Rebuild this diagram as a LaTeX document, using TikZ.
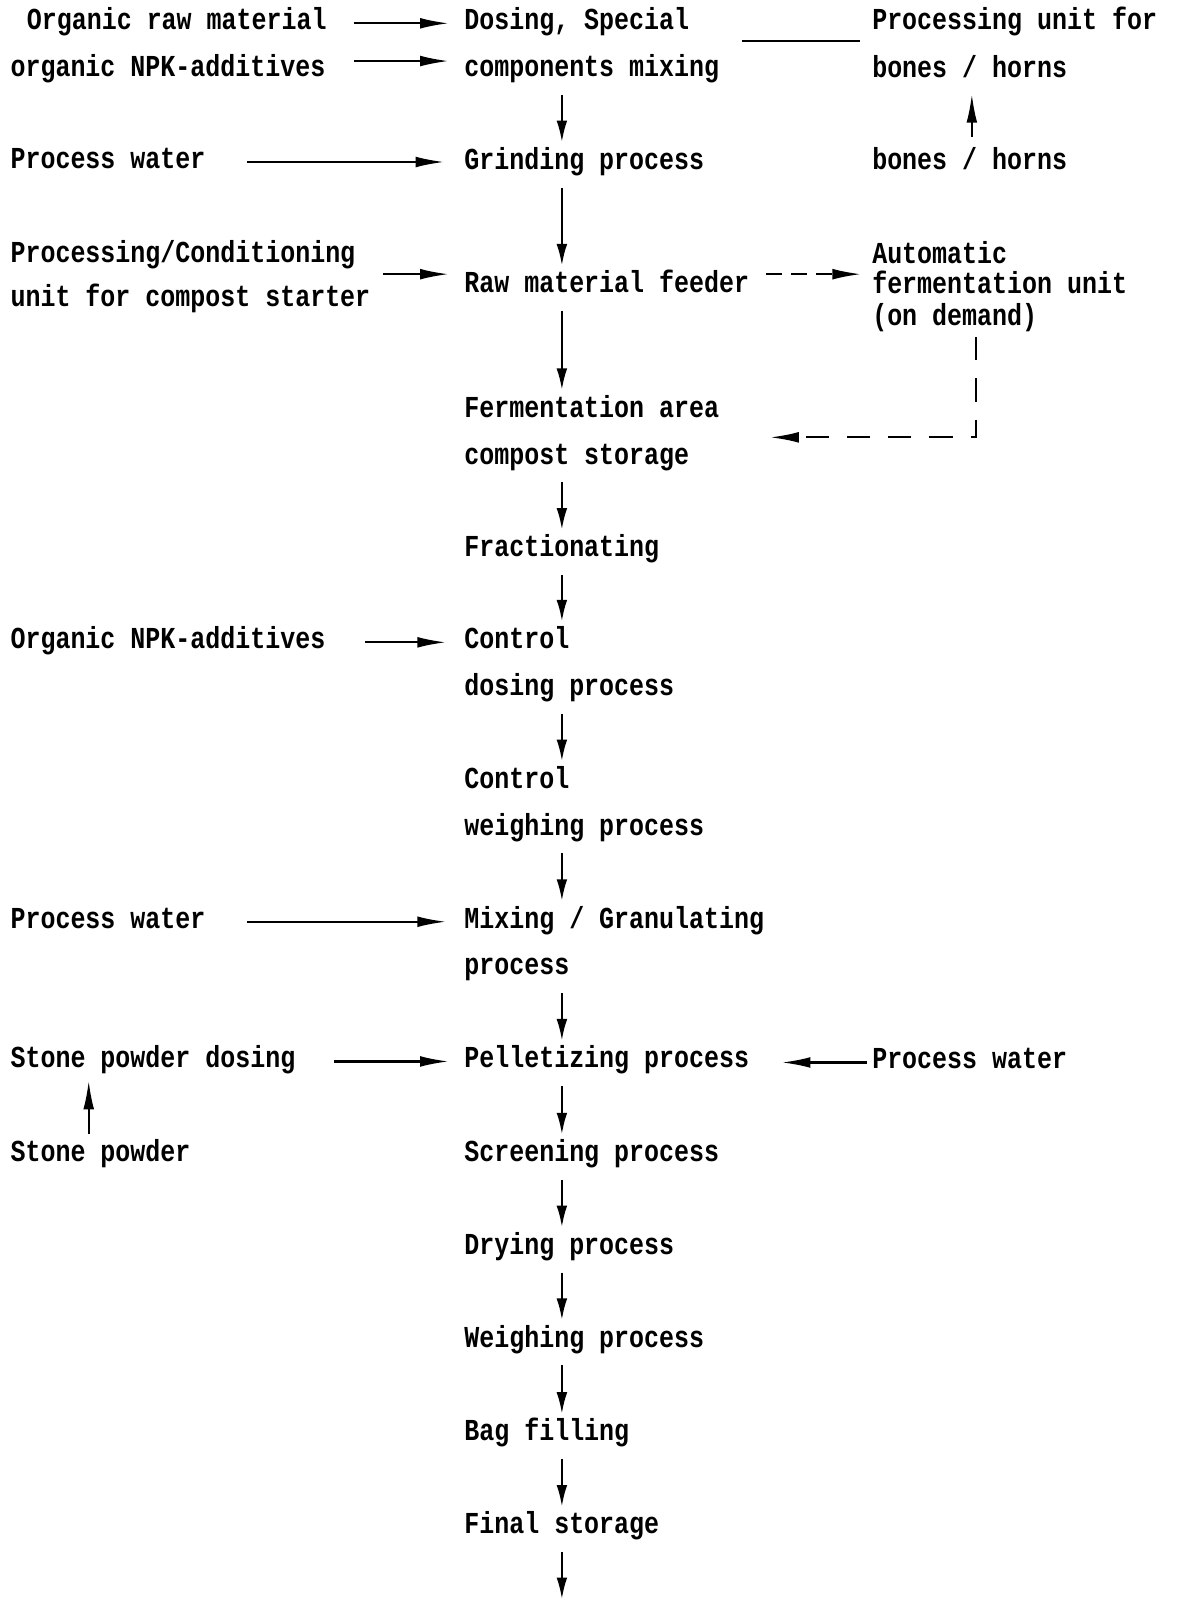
\documentclass[tikz,border=0pt]{standalone}
\usepackage{fontspec}
\setmonofont{Liberation Mono}[FakeStretch=0.82]
\usetikzlibrary{arrows.meta,calc}
\begin{document}
\begin{tikzpicture}[x=0.02cm, y=-0.02cm,
    txt/.style={anchor=west, inner sep=0pt, text height=10pt, text depth=3pt, yshift=-2.2pt,
      font=\ttfamily\bfseries\fontsize{17}{20}\selectfont},
    flow/.style={-{Latex[length=16pt,width=6pt]}, line width=1.2pt},
    down/.style={-{Latex[length=12pt,width=6pt]}, line width=1.2pt, shorten <=7pt, shorten >=5pt},
    link/.style={line width=1.2pt},
    shortdash/.style={dash pattern=on 9pt off 5pt},
    longdash/.style={dash pattern=on 13pt off 10pt}]
   \useasboundingbox (0,0) rectangle (1154,1568);
   \coordinate (axis) at (551,0);
   \coordinate (baxis) at (953,0);
   \coordinate (saxis) at (87,0);
   \coordinate (exit) at (551,1568);
   \node[txt] (orgraw) at (26,19) {Organic raw material};
   \node[txt] (orgnpk) at (10,65) {organic NPK-additives};
   \node[txt] (water1) at (10,155) {Process water};
   \node[txt] (cond1) at (10,247) {Processing/Conditioning};
   \node[txt] (cond2) at (10,291) {unit for compost starter};
   \node[txt] (npk2) at (10,626) {Organic NPK-additives};
   \node[txt] (water2) at (10,900) {Process water};
   \node[txt] (stone1) at (10,1037) {Stone powder dosing};
   \node[txt] (stone2) at (10,1129) {Stone powder};
   \node[txt] (dose1) at (455,19) {Dosing, Special};
   \node[txt] (dose2) at (455,65) {components mixing};
   \node[txt] (grind) at (455,156) {Grinding process};
   \node[txt] (raw) at (455,277) {Raw material feeder};
   \node[txt] (ferm1) at (455,399) {Fermentation area};
   \node[txt] (ferm2) at (455,445) {compost storage};
   \node[txt] (frac) at (455,536) {Fractionating};
   \node[txt] (ctrl1) at (455,626) {Control};
   \node[txt] (ctrl2) at (455,672) {dosing process};
   \node[txt] (weigh1) at (455,763) {Control};
   \node[txt] (weigh2) at (455,809) {weighing process};
   \node[txt] (mix1) at (455,900) {Mixing / Granulating};
   \node[txt] (mix2) at (455,946) {process};
   \node[txt] (pellet) at (455,1037) {Pelletizing process};
   \node[txt] (screen) at (455,1129) {Screening process};
   \node[txt] (dry) at (455,1220) {Drying process};
   \node[txt] (weigh) at (455,1311) {Weighing process};
   \node[txt] (bag) at (455,1403) {Bag filling};
   \node[txt] (final) at (455,1494) {Final storage};
   \node[txt] (punit) at (855,19) {Processing unit for};
   \node[txt] (bones1) at (855,66) {bones / horns};
   \node[txt] (bones2) at (855,156) {bones / horns};
   \node[txt] (auto1) at (855,248) {Automatic};
   \node[txt] (auto2) at (855,278) {fermentation unit};
   \node[txt] (auto3) at (855,309) {(on demand)};
   \node[txt] (water3) at (855,1038) {Process water};
   \draw[flow, shorten <=15pt, shorten >=8.5pt] (orgraw.east) -- (dose1.west);
   \draw[flow, shorten <=16pt, shorten >=8.5pt] ($(orgnpk.east)+(0,-9)$) -- ($(dose2.west)+(0,-9)$);
   \draw[link] ($(dose2.east)+(22,-29)$) -- ($(bones1.west)+(-12,-30)$);
   \draw[flow, shorten <=23pt, shorten >=11pt] (water1.east) -- (water1.east -| grind.west);
   \draw[flow, shorten <=8pt, shorten >=6pt] (bones2.north -| baxis) -- (bones1.south -| baxis);
   \draw[flow, shorten <=7pt, shorten >=8.5pt] ($(raw.west -| cond2.east)+(0,-12)$) -- ($(raw.west)+(0,-12)$);
   \draw[flow, shortdash, shorten <=9pt, shorten >=6pt] ($(raw.east)+(0,-12)$) -- ($(raw.east -| auto2.west)+(0,-12)$);
   \draw[flow, longdash] ($(auto3.south)+(21,6)$) |- ($(ferm2.east)+(79,-20)$);
   \draw[flow, shorten <=22pt, shorten >=10pt] (npk2.east) -- (ctrl1.west);
   \draw[flow, shorten <=23pt, shorten >=10pt] (water2.east) -- (mix1.west);
   \draw[flow, shorten <=21.5pt, shorten >=8.5pt] (stone1.east) -- (pellet.west);
   \draw[flow, shorten <=3pt, shorten >=18pt] (water3.west) -- (water3.west -| pellet.east);
   \draw[flow, shorten <=5pt, shorten >=4pt] (stone2.north -| saxis) -- (stone1.south -| saxis);
   \draw[down] (dose2.south -| axis) -- (grind.north -| axis);
   \draw[down] (grind.south -| axis) -- (raw.north -| axis);
   \draw[down] (raw.south -| axis) -- (ferm1.north -| axis);
   \draw[down] (ferm2.south -| axis) -- (frac.north -| axis);
   \draw[down] (frac.south -| axis) -- (ctrl1.north -| axis);
   \draw[down] (ctrl2.south -| axis) -- (weigh1.north -| axis);
   \draw[down] (weigh2.south -| axis) -- (mix1.north -| axis);
   \draw[down] (mix2.south -| axis) -- (pellet.north -| axis);
   \draw[down] (pellet.south -| axis) -- (screen.north -| axis);
   \draw[down] (screen.south -| axis) -- (dry.north -| axis);
   \draw[down] (dry.south -| axis) -- (weigh.north -| axis);
   \draw[down] (weigh.south -| axis) -- (bag.north -| axis);
   \draw[down] (bag.south -| axis) -- (final.north -| axis);
   \draw[down, shorten >=0pt] (final.south -| axis) -- (exit);
\end{tikzpicture}
\end{document}
